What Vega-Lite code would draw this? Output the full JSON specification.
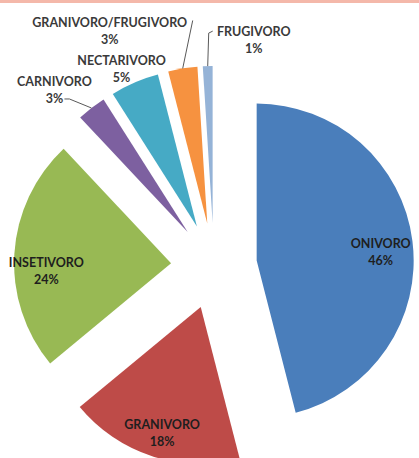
{
  "$schema": "https://vega.github.io/schema/vega-lite/v6.json",
  "width": 419,
  "height": 455,
  "autosize": {"type": "none"},
  "padding": {"top": 3, "left": 0, "right": 0, "bottom": 0},
  "background": "#F4B8AA",
  "config": {"view": {"stroke": null, "fill": "white"}, "text": {"font": "Lato"}},
  "data": {"values": [
    {"ordem": 1, "nome": "ONIVORO", "pct": 46},
    {"ordem": 2, "nome": "GRANIVORO", "pct": 18},
    {"ordem": 3, "nome": "INSETIVORO", "pct": 24},
    {"ordem": 4, "nome": "CARNIVORO", "pct": 3},
    {"ordem": 5, "nome": "NECTARIVORO", "pct": 5},
    {"ordem": 6, "nome": "GRANIVORO/FRUGIVORO", "pct": 3},
    {"ordem": 7, "nome": "FRUGIVORO", "pct": 1}
  ]},
  "transform": [
    {"window": [{"op": "sum", "field": "pct", "as": "fim"}], "sort": [{"field": "ordem"}], "frame": [null, 0]},
    {"calculate": "datum.fim - datum.pct", "as": "inicio"},
    {"calculate": "2*PI*(datum.fim - datum.pct/2)/100", "as": "ang"},
    {"calculate": "43*sin(datum.ang)", "as": "vx"},
    {"calculate": "-43*cos(datum.ang)", "as": "vy"},
    {"calculate": "168*sin(datum.ang)", "as": "ix"},
    {"calculate": "-168*cos(datum.ang)", "as": "iy"},
    {"calculate": "200*sin(datum.ang)", "as": "ax"},
    {"calculate": "-200*cos(datum.ang)", "as": "ay"},
    {"calculate": "[datum.nome, datum.pct + '%']", "as": "rotulo"}
  ],
  "layer": [
    {
      "mark": {"type": "arc", "outerRadius": 157},
      "encoding": {
        "x": {"field": "vx", "type": "quantitative", "scale": {"domain": [-214, 205], "range": [0, 419], "nice": false, "zero": false}, "axis": null},
        "y": {"field": "vy", "type": "quantitative", "scale": {"domain": [-263, 192], "range": [0, 455], "nice": false, "zero": false}, "axis": null},
        "theta": {"field": "inicio", "type": "quantitative", "scale": {"domain": [0, 100]}, "stack": null},
        "theta2": {"field": "fim"},
        "color": {
          "field": "nome", "type": "nominal", "legend": null,
          "scale": {
            "domain": ["ONIVORO", "GRANIVORO", "INSETIVORO", "CARNIVORO", "NECTARIVORO", "GRANIVORO/FRUGIVORO", "FRUGIVORO"],
            "range": ["#4A7EBB", "#BE4B48", "#98B954", "#7D60A0", "#46AAC5", "#F69240", "#95B3D7"]
          }
        }
      }
    },
    {
      "transform": [{"filter": "datum.pct >= 10 && datum.nome != 'INSETIVORO'"}],
      "mark": {"type": "text", "fontWeight": "bold", "fontSize": 12.5, "lineHeight": 17, "color": "#1e1e1e", "dy": -1},
      "encoding": {
        "x": {"field": "ix", "type": "quantitative"},
        "y": {"field": "iy", "type": "quantitative"},
        "text": {"field": "rotulo"}
      }
    },
    {
      "transform": [{"filter": "datum.nome == 'INSETIVORO'"}],
      "mark": {"type": "text", "fontWeight": "bold", "fontSize": 12.5, "lineHeight": 17, "color": "#1e1e1e", "dy": 8},
      "encoding": {
        "x": {"field": "ix", "type": "quantitative"},
        "y": {"field": "iy", "type": "quantitative"},
        "text": {"field": "rotulo"}
      }
    },
    {
      "transform": [
        {"filter": "datum.nome == 'CARNIVORO'"},
        {"calculate": "datum.ax - 22", "as": "bx"},
        {"calculate": "datum.ay - 9", "as": "by"},
        {"calculate": "datum.ax - 27", "as": "cx"}
      ],
      "layer": [
        {
          "mark": {"type": "text", "fontWeight": "bold", "fontSize": 12.5, "lineHeight": 17, "color": "#3a3a3a", "dx": -37, "dy": -26},
          "encoding": {"x": {"field": "ax", "type": "quantitative"}, "y": {"field": "ay", "type": "quantitative"}, "text": {"field": "rotulo"}}
        },
        {
          "mark": {"type": "rule", "color": "#595959", "strokeWidth": 1},
          "encoding": {"x": {"field": "ax", "type": "quantitative"}, "y": {"field": "ay", "type": "quantitative"}, "x2": {"field": "bx"}, "y2": {"field": "by"}}
        },
        {
          "mark": {"type": "rule", "color": "#595959", "strokeWidth": 1},
          "encoding": {"x": {"field": "bx", "type": "quantitative"}, "y": {"field": "by", "type": "quantitative"}, "x2": {"field": "cx"}}
        }
      ]
    },
    {
      "transform": [{"filter": "datum.nome == 'NECTARIVORO'"}],
      "mark": {"type": "text", "fontWeight": "bold", "fontSize": 12.5, "lineHeight": 17, "color": "#3a3a3a", "dx": -13, "dy": -21},
      "encoding": {"x": {"field": "ax", "type": "quantitative"}, "y": {"field": "ay", "type": "quantitative"}, "text": {"field": "rotulo"}}
    },
    {
      "transform": [
        {"filter": "datum.nome == 'GRANIVORO/FRUGIVORO'"},
        {"calculate": "datum.ax + 10", "as": "bx"},
        {"calculate": "datum.ay - 48", "as": "by"}
      ],
      "layer": [
        {
          "mark": {"type": "text", "fontWeight": "bold", "fontSize": 12.5, "lineHeight": 17, "color": "#3a3a3a", "dx": -73, "dy": -45},
          "encoding": {"x": {"field": "ax", "type": "quantitative"}, "y": {"field": "ay", "type": "quantitative"}, "text": {"field": "rotulo"}}
        },
        {
          "mark": {"type": "rule", "color": "#595959", "strokeWidth": 1},
          "encoding": {"x": {"field": "ax", "type": "quantitative"}, "y": {"field": "ay", "type": "quantitative"}, "x2": {"field": "bx"}, "y2": {"field": "by"}}
        }
      ]
    },
    {
      "transform": [
        {"filter": "datum.nome == 'FRUGIVORO'"},
        {"calculate": "datum.ax + 1", "as": "bx"},
        {"calculate": "datum.ay - 33", "as": "by"},
        {"calculate": "datum.ax + 5", "as": "cx"},
        {"calculate": "datum.ay - 35", "as": "cy"}
      ],
      "layer": [
        {
          "mark": {"type": "text", "fontWeight": "bold", "fontSize": 12.5, "lineHeight": 17, "color": "#3a3a3a", "dx": 46, "dy": -34},
          "encoding": {"x": {"field": "ax", "type": "quantitative"}, "y": {"field": "ay", "type": "quantitative"}, "text": {"field": "rotulo"}}
        },
        {
          "mark": {"type": "rule", "color": "#595959", "strokeWidth": 1},
          "encoding": {"x": {"field": "ax", "type": "quantitative"}, "y": {"field": "ay", "type": "quantitative"}, "x2": {"field": "bx"}, "y2": {"field": "by"}}
        },
        {
          "mark": {"type": "rule", "color": "#595959", "strokeWidth": 1},
          "encoding": {"x": {"field": "bx", "type": "quantitative"}, "y": {"field": "by", "type": "quantitative"}, "x2": {"field": "cx"}, "y2": {"field": "cy"}}
        }
      ]
    }
  ]
}
